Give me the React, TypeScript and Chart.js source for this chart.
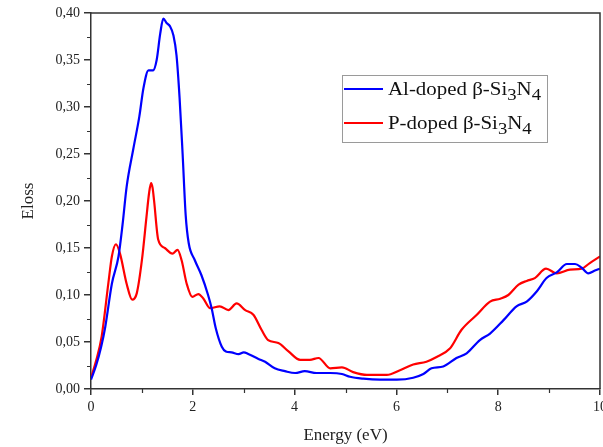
import React, { useEffect, useRef } from "react";
import { Chart, registerables } from "chart.js";

Chart.register(...registerables);

const alEnergy = [0, 0.1, 0.2, 0.28, 0.41, 0.54, 0.62, 0.70, 0.83, 0.95, 1.03, 1.13, 1.22, 1.29, 1.36, 1.42, 1.49, 1.55, 1.62, 1.68, 1.74, 1.80, 1.86, 1.92, 2.04, 2.17, 2.30, 2.37, 2.45, 2.57, 2.65, 2.76, 2.9, 3.0, 3.1, 3.29, 3.42, 3.61, 3.81, 4.01, 4.20, 4.43, 4.70, 4.93, 5.09, 5.35, 5.68, 6.01, 6.33, 6.53, 6.69, 6.92, 7.18, 7.38, 7.64, 7.84, 8.10, 8.36, 8.56, 8.76, 8.95, 9.15, 9.35, 9.51, 9.64, 9.77, 9.90, 10];
const alEloss = [0.010, 0.025, 0.045, 0.066, 0.112, 0.141, 0.175, 0.215, 0.255, 0.29, 0.32, 0.339, 0.339, 0.35, 0.378, 0.394, 0.389, 0.386, 0.376, 0.355, 0.31, 0.25, 0.185, 0.155, 0.137, 0.121, 0.100, 0.086, 0.065, 0.045, 0.040, 0.039, 0.037, 0.039, 0.037, 0.032, 0.029, 0.022, 0.019, 0.017, 0.019, 0.017, 0.017, 0.016, 0.013, 0.011, 0.010, 0.010, 0.012, 0.016, 0.022, 0.024, 0.033, 0.038, 0.052, 0.059, 0.073, 0.088, 0.093, 0.104, 0.118, 0.124, 0.133, 0.133, 0.129, 0.123, 0.126, 0.128];

const pEnergy = [0, 0.1, 0.21, 0.34, 0.41, 0.49, 0.57, 0.70, 0.81, 0.90, 1.0, 1.09, 1.14, 1.18, 1.21, 1.24, 1.32, 1.45, 1.60, 1.70, 1.78, 1.88, 1.99, 2.11, 2.21, 2.34, 2.53, 2.70, 2.86, 3.03, 3.19, 3.35, 3.48, 3.68, 3.88, 4.11, 4.30, 4.47, 4.70, 4.93, 5.15, 5.42, 5.81, 6.07, 6.33, 6.59, 6.79, 7.05, 7.28, 7.58, 7.84, 8.04, 8.20, 8.40, 8.56, 8.72, 8.94, 9.15, 9.41, 9.64, 9.80, 10];
const pEloss = [0.012, 0.030, 0.056, 0.112, 0.141, 0.154, 0.144, 0.112, 0.095, 0.102, 0.137, 0.183, 0.208, 0.219, 0.214, 0.200, 0.159, 0.150, 0.144, 0.148, 0.137, 0.112, 0.098, 0.101, 0.096, 0.086, 0.088, 0.084, 0.091, 0.084, 0.079, 0.063, 0.052, 0.049, 0.040, 0.031, 0.031, 0.033, 0.022, 0.023, 0.018, 0.015, 0.015, 0.020, 0.026, 0.029, 0.034, 0.043, 0.063, 0.079, 0.093, 0.096, 0.100, 0.111, 0.115, 0.118, 0.128, 0.123, 0.127, 0.128, 0.134, 0.141];

const seriesNames = ["Al-doped β-Si", "P-doped β-Si"];
const seriesColors = ["#0000ff", "#ff0000"];
const yMinorTicks = [0.025, 0.075, 0.125, 0.175, 0.225, 0.275, 0.325, 0.375];
const xMinorTicks = [1, 3, 5, 7, 9];

const SERIF = "'Liberation Serif', 'Times New Roman', serif";
const AXIS_COLOR = "#333333";

const framePlugin = {
  id: "frameAndMinor",
  afterDraw(chart: any) {
    const { ctx, chartArea, scales } = chart;
    const { left, right, top, bottom } = chartArea;
    ctx.save();
    ctx.strokeStyle = AXIS_COLOR;
    ctx.lineWidth = 1.5;
    ctx.beginPath();
    ctx.moveTo(left, top);
    ctx.lineTo(right, top);
    ctx.lineTo(right, bottom);
    ctx.stroke();
    ctx.lineWidth = 1.2;
    ctx.beginPath();
    for (const v of yMinorTicks) {
      const y = Math.round(scales.y.getPixelForValue(v)) + 0.5;
      ctx.moveTo(left - 4, y);
      ctx.lineTo(left, y);
    }
    for (const v of xMinorTicks) {
      const x = Math.round(scales.x.getPixelForValue(v)) + 0.5;
      ctx.moveTo(x, bottom);
      ctx.lineTo(x, bottom + 4);
    }
    ctx.stroke();

    // legend
    const bx = 342, by = 75, bw = 205, bh = 67;
    ctx.fillStyle = "#ffffff";
    ctx.fillRect(bx, by, bw, bh);
    ctx.strokeStyle = "#9a9a9a";
    ctx.lineWidth = 1;
    ctx.strokeRect(bx + 0.5, by + 0.5, bw, bh);
    const rows = [89, 123];
    rows.forEach((ry, i) => {
      ctx.strokeStyle = seriesColors[i];
      ctx.lineWidth = 2;
      ctx.beginPath();
      ctx.moveTo(344, ry);
      ctx.lineTo(383, ry);
      ctx.stroke();
      ctx.save();
      ctx.translate(388, ry + 6);
      ctx.scale(1.1, 1);
      ctx.fillStyle = "#111111";
      ctx.textBaseline = "alphabetic";
      ctx.textAlign = "left";
      ctx.font = `19px ${SERIF}`;
      let x = 0;
      const parts: [string, boolean][] = [[seriesNames[i], false], ["3", true], ["N", false], ["4", true]];
      for (const [t, sub] of parts) {
        ctx.font = sub ? `17px ${SERIF}` : `19px ${SERIF}`;
        ctx.fillText(t, x, sub ? 5 : 0);
        x += ctx.measureText(t).width;
      }
      ctx.restore();
    });
    ctx.restore();
  },
};

export default function App() {
  const ref = useRef<HTMLCanvasElement>(null);
  useEffect(() => {
    if (!ref.current) return;
    const chart = new Chart(ref.current, {
      type: "line",
      data: {
        datasets: [
          {
            label: seriesNames[0] + "3N4",
            data: alEnergy.map((x, i) => ({ x, y: alEloss[i] })),
            borderColor: seriesColors[0],
            borderWidth: 2.2,
            pointRadius: 0,
            cubicInterpolationMode: "monotone",
            fill: false,
          },
          {
            label: seriesNames[1] + "3N4",
            data: pEnergy.map((x, i) => ({ x, y: pEloss[i] })),
            borderColor: seriesColors[1],
            borderWidth: 2.2,
            pointRadius: 0,
            cubicInterpolationMode: "monotone",
            fill: false,
          },
        ],
      },
      options: {
        responsive: false,
        animation: false,
        layout: { padding: { top: 13, right: 3, left: 0, bottom: 0 } },
        plugins: { legend: { display: false }, tooltip: { enabled: false } },
        scales: {
          x: {
            type: "linear",
            min: 0,
            max: 10,
            afterFit: (s: any) => { s.height = 58; s.paddingRight = 0; s.paddingLeft = 0; },
            ticks: { stepSize: 2, padding: 4, color: "#222", font: { family: SERIF, size: 14 }, maxRotation: 0 },
            grid: { display: true, drawOnChartArea: false, drawTicks: true, tickLength: 6, color: AXIS_COLOR, lineWidth: 1.5 },
            border: { display: true, color: AXIS_COLOR, width: 1.5 },
            title: { display: true, text: "Energy (eV)", color: "#222", font: { family: SERIF, size: 17 }, padding: { top: 0, bottom: 1 } },
          },
          y: {
            min: 0,
            max: 0.4,
            afterFit: (s: any) => { s.width = 91; s.paddingTop = 0; s.paddingBottom = 0; },
            ticks: {
              stepSize: 0.05,
              padding: 4,
              color: "#222",
              font: { family: SERIF, size: 14 },
              callback: (v: any) => Number(v).toFixed(2).replace(".", ","),
            },
            grid: { display: true, drawOnChartArea: false, drawTicks: true, tickLength: 7, color: AXIS_COLOR, lineWidth: 1.5 },
            border: { display: true, color: AXIS_COLOR, width: 1.5 },
            title: { display: true, text: "Eloss", color: "#222", font: { family: SERIF, size: 17 }, padding: { top: 18, bottom: 0 } },
          },
        },
      },
      plugins: [framePlugin],
    } as any);
    return () => chart.destroy();
  }, []);
  return (
    <div style={{ position: "fixed", left: 0, top: 0, width: 603, height: 447, background: "#fff" }}>
      <canvas ref={ref} width={603} height={447} />
    </div>
  );
}
